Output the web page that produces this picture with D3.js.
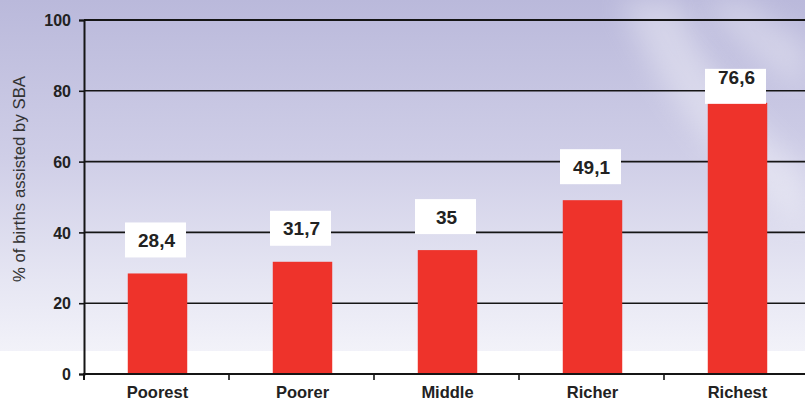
<!DOCTYPE html>
<html><head><meta charset="utf-8">
<script src="https://cdn.jsdelivr.net/npm/d3@7"></script>
<style>html,body{margin:0;padding:0;background:#fff;overflow:hidden}svg{display:block}</style>
</head><body>
<svg id="chart" width="805" height="403"></svg>
<script>
const categories = ["Poorest", "Poorer", "Middle", "Richer", "Richest"];
const values = [28.4, 31.7, 35, 49.1, 76.6];
const valueLabels = ["28,4", "31,7", "35", "49,1", "76,6"];
const yTicks = [0, 20, 40, 60, 80, 100];
const yTitle = "% of births assisted by SBA";

const W = 805, H = 403;
const svg = d3.select("#chart");
const defs = svg.append("defs");
const g1 = defs.append("linearGradient").attr("id","bg").attr("x1",0).attr("y1",0).attr("x2",0).attr("y2",1);
g1.append("stop").attr("offset","0%").attr("stop-color","#bab9db");
g1.append("stop").attr("offset","45%").attr("stop-color","#cfcee7");
g1.append("stop").attr("offset","80%").attr("stop-color","#e6e6f3");
g1.append("stop").attr("offset","100%").attr("stop-color","#f2f2f9");
defs.append("filter").attr("id","blur").append("feGaussianBlur").attr("stdDeviation",14);

svg.append("rect").attr("width",W).attr("height",351).attr("fill","url(#bg)");
// soft light streak in background
svg.append("path")
  .attr("d","M620,0 C660,90 700,150 805,230 L805,170 C740,120 700,60 680,0 Z")
  .attr("fill","#ffffff").attr("opacity",0.35).attr("filter","url(#blur)");
svg.append("path")
  .attr("d","M700,0 C730,40 770,70 805,90 L805,40 C780,30 760,15 750,0 Z")
  .attr("fill","#ffffff").attr("opacity",0.3).attr("filter","url(#blur)");
svg.append("rect").attr("y",351).attr("width",W).attr("height",H-351).attr("fill","#ffffff");

const x = d3.scaleBand().domain(categories).range([84, 809]).paddingInner(0.59).paddingOuter(0.295);
const y = d3.scaleLinear().domain([0, 100]).range([374, 20]);

// gridlines
svg.append("g").selectAll("line").data(yTicks.filter(d => d > 0)).join("line")
  .attr("x1", 84).attr("x2", W).attr("y1", d => y(d)).attr("y2", d => y(d))
  .attr("stroke", "#151515").attr("stroke-width", d => d === 100 ? 2 : 1.6);

// y axis
const yAxis = svg.append("g").attr("transform","translate(84,0)")
  .call(d3.axisLeft(y).tickValues(yTicks).tickSize(5).tickPadding(8));
yAxis.select(".domain").attr("stroke","#151515").attr("stroke-width",2);
yAxis.selectAll(".tick line").attr("stroke","#151515").attr("stroke-width",1.6);
yAxis.selectAll(".tick text").attr("font-family","'Liberation Sans', Arial, sans-serif")
  .attr("font-weight","bold").attr("font-size","16px").attr("fill","#222").attr("dy","0.36em");

// bars
svg.append("g").selectAll("rect").data(values).join("rect")
  .attr("x", (d,i) => x(categories[i]) + 1)
  .attr("y", d => y(d))
  .attr("width", x.bandwidth())
  .attr("height", d => y(0) - y(d))
  .attr("fill", "#ee332b");

// x axis
svg.append("line").attr("x1",83).attr("x2",W).attr("y1",y(0)).attr("y2",y(0))
  .attr("stroke","#151515").attr("stroke-width",2);
const bounds = categories.slice(1).map((c,i) => (x(categories[i]) + x.bandwidth() + x(c)) / 2);
svg.append("g").selectAll("line").data(bounds).join("line")
  .attr("x1", d => d).attr("x2", d => d).attr("y1", y(0)).attr("y2", y(0)+6)
  .attr("stroke","#151515").attr("stroke-width",1.6);
svg.append("line").attr("x1",84).attr("x2",84).attr("y1",y(0)).attr("y2",y(0)+6)
  .attr("stroke","#151515").attr("stroke-width",2);

svg.append("g").selectAll("text").data(categories).join("text")
  .attr("x", d => x(d) + x.bandwidth()/2 + 1)
  .attr("y", 398)
  .attr("text-anchor","middle")
  .attr("font-family","'Liberation Sans', Arial, sans-serif")
  .attr("font-weight","bold").attr("font-size","16.5px").attr("fill","#222")
  .text(d => d);

// value label boxes
const boxW = 61, boxH = 35;
const lbl = svg.append("g").selectAll("g").data(values).join("g");
lbl.each(function(d,i){
  const cx = x(categories[i]) + x.bandwidth()/2 - 1;
  let bottom = y(d) - 16;
  let top = bottom - boxH;
  let textY = top + 24.5;
  if (top < y(86.2)) { top = y(86.2); bottom = top + boxH; textY = top + 15; }
  const gg = d3.select(this);
  gg.append("rect").attr("x", cx - boxW/2).attr("y", top).attr("width", boxW).attr("height", boxH).attr("fill","#ffffff");
  gg.append("text").attr("x", cx + 1).attr("y", textY).attr("text-anchor","middle")
    .attr("font-family","'Liberation Sans', Arial, sans-serif")
    .attr("font-weight","bold").attr("font-size","19px").attr("fill","#222")
    .text(valueLabels[i]);
});

// y title
svg.append("text")
  .attr("transform","translate(25,179) rotate(-90)")
  .attr("text-anchor","middle")
  .attr("font-family","'Liberation Sans', Arial, sans-serif")
  .attr("font-size","16.8px").attr("fill","#333")
  .text(yTitle);
</script>
</body></html>
